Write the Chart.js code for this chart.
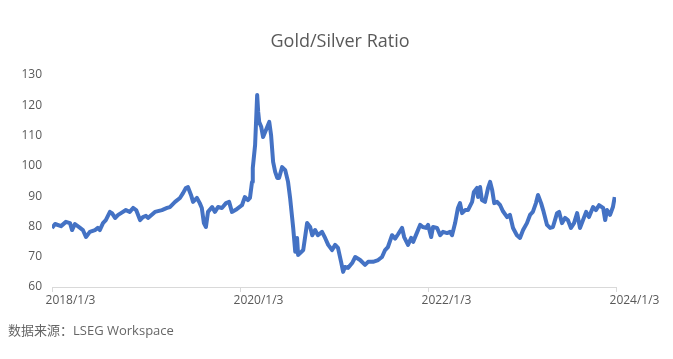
<!DOCTYPE html>
<html>
<head>
<meta charset="utf-8">
<script src="https://cdn.jsdelivr.net/npm/chart.js@4"></script>
<style>
  html, body { margin: 0; padding: 0; background: #fff; }
  #wrap { width: 673px; height: 359px; position: relative; }
</style>
</head>
<body>
<div id="wrap"><canvas id="ratioChart"></canvas></div>
<script>
const chartTitle = 'Gold/Silver Ratio';
const sourceNote = '数据来源：LSEG Workspace';

// x tick positions and their labels
const tickDates = ['2018-01-03', '2020-01-03', '2022-01-03', '2024-01-03'];
const tickLabels = ['2018/1/3', '2020/1/3', '2022/1/3', '2024/1/3'];
const yTicks = [60, 70, 80, 90, 100, 110, 120, 130];

// series
const dates = [
  '2018-01-03','2018-01-15','2018-02-07','2018-02-26','2018-03-14','2018-03-22','2018-04-02','2018-04-22',
  '2018-05-03','2018-05-15','2018-05-30','2018-06-19','2018-06-30','2018-07-08','2018-07-20','2018-07-31',
  '2018-08-16','2018-08-24','2018-09-05','2018-09-17','2018-09-28','2018-10-17','2018-11-01','2018-11-14',
  '2018-11-26','2018-12-11','2018-12-22',
  '2019-01-03','2019-01-11','2019-02-07','2019-03-06','2019-03-26','2019-04-06','2019-04-26','2019-05-15',
  '2019-05-27','2019-06-07','2019-06-15','2019-06-27','2019-07-05','2019-07-20','2019-07-31','2019-08-08',
  '2019-08-16','2019-08-24','2019-09-01','2019-09-17','2019-09-28','2019-10-10','2019-10-25','2019-11-10',
  '2019-11-22','2019-12-03','2019-12-18',
  '2020-01-11','2020-01-22','2020-02-03','2020-02-11','2020-02-19','2020-02-22','2020-03-02','2020-03-10',
  '2020-03-14','2020-03-18','2020-03-26','2020-04-02','2020-04-18','2020-04-26','2020-05-03','2020-05-11',
  '2020-05-19','2020-05-27','2020-06-03','2020-06-15','2020-06-27','2020-07-08','2020-07-16','2020-07-24',
  '2020-07-28','2020-08-05','2020-08-12','2020-08-16','2020-08-24','2020-09-05','2020-09-20','2020-10-02',
  '2020-10-10','2020-10-21','2020-11-01','2020-11-17','2020-11-29','2020-12-11','2020-12-26',
  '2021-01-07','2021-01-18','2021-01-30','2021-02-07','2021-02-14','2021-02-26','2021-03-14','2021-03-26',
  '2021-04-14','2021-05-03','2021-05-15','2021-06-03','2021-06-23','2021-07-08','2021-07-20','2021-07-31',
  '2021-08-16','2021-08-28','2021-09-09','2021-09-24','2021-10-02','2021-10-17','2021-10-29','2021-11-06',
  '2021-11-22','2021-12-03','2021-12-14','2021-12-26',
  '2022-01-03','2022-01-15','2022-01-22','2022-02-07','2022-02-19','2022-03-02','2022-03-18','2022-03-29',
  '2022-04-06','2022-04-18','2022-04-29','2022-05-07','2022-05-15','2022-05-27','2022-06-07','2022-06-23',
  '2022-06-30','2022-07-12','2022-07-16','2022-07-24','2022-07-31','2022-08-12','2022-08-24','2022-09-01',
  '2022-09-09','2022-09-17','2022-09-28','2022-10-10','2022-10-21','2022-11-06','2022-11-17','2022-11-29',
  '2022-12-14','2022-12-26',
  '2023-01-07','2023-01-22','2023-02-03','2023-02-14','2023-02-26','2023-03-06','2023-03-18','2023-03-26',
  '2023-04-10','2023-04-22','2023-05-03','2023-05-19','2023-05-27','2023-06-07','2023-06-19','2023-06-30',
  '2023-07-12','2023-07-24','2023-08-05','2023-08-16','2023-08-28','2023-09-09','2023-09-20','2023-10-06',
  '2023-10-17','2023-10-29','2023-11-14','2023-11-22','2023-11-29','2023-12-11','2023-12-22','2023-12-29'
];

const ratio = [
  79.5, 80.8, 80.1, 81.5, 81.1, 78.8, 80.8, 79.5,
  78.8, 76.5, 78.2, 78.8, 79.5, 78.8, 81.1, 82.1,
  84.8, 84.4, 82.8, 83.8, 84.4, 85.4, 84.8, 86.1,
  85.4, 82.1, 83.1,
  83.5, 82.8, 84.8, 85.4, 86.1, 86.4, 88.1, 89.4,
  91.0, 92.7, 93.0, 90.4, 88.1, 89.4, 87.7, 86.1,
  81.1, 79.8, 84.8, 86.4, 84.8, 86.4, 86.1, 87.7,
  88.1, 84.8, 85.5,
  87.0, 89.7, 88.7, 89.4, 94.7, 99.3, 106.9, 123.4,
  117.8, 114.5, 112.8, 109.5, 112.8, 114.5, 110.2, 101.3,
  98.0, 96.0, 96.0, 99.6, 98.6, 94.7, 89.4, 82.8,
  79.5, 71.6, 76.2, 70.6, 71.2, 72.2, 81.1, 79.8,
  77.1, 78.8, 77.1, 78.2, 76.2, 73.9, 72.2,
  73.9, 72.9, 68.3, 65.0, 66.6, 66.3, 67.9, 69.9,
  68.9, 67.3, 68.3, 68.3, 68.9, 69.9, 72.2, 73.2,
  77.1, 76.0, 77.5, 79.5, 76.5, 73.9, 76.2, 74.9,
  78.2, 80.5, 79.8, 79.5,
  80.5, 76.5, 79.8, 79.5, 77.1, 78.2, 77.8, 78.2,
  77.1, 81.1, 86.1, 87.7, 84.4, 85.4, 85.4, 88.1,
  91.4, 92.7, 89.7, 93.0, 88.7, 88.1, 92.7, 94.7,
  92.0, 87.7, 88.1, 87.0, 85.0, 83.1, 83.8, 79.5,
  77.1, 76.2,
  78.8, 81.1, 83.8, 84.8, 87.7, 90.4, 87.7, 85.4,
  80.5, 79.5, 79.8, 84.4, 84.8, 81.1, 82.8, 82.1,
  79.5, 81.1, 84.4, 79.5, 82.1, 84.8, 83.1, 86.4,
  85.4, 87.0, 86.1, 82.1, 85.4, 83.8, 86.4, 89.7
];

const toTime = d => new Date(d + 'T00:00:00Z').getTime();
const points = dates.map((d, i) => ({ x: toTime(d), y: ratio[i] }));

const textColor = '#595959';
const fontFamily = '"Open Sans", "Noto Sans CJK SC", sans-serif';

// draws title, x axis line + ticks + labels, and the source note
const decorations = {
  id: 'decorations',
  afterDraw(chart) {
    const { ctx, chartArea } = chart;
    const xs = chart.scales.x;
    ctx.save();

    // title
    ctx.fillStyle = textColor;
    ctx.font = '18px ' + fontFamily;
    ctx.textAlign = 'center';
    ctx.textBaseline = 'middle';
    ctx.fillText(chartTitle, 340, 42);

    // x axis line
    ctx.strokeStyle = '#d9d9d9';
    ctx.lineWidth = 1;
    ctx.beginPath();
    ctx.moveTo(chartArea.left, chartArea.bottom + 0.5);
    ctx.lineTo(chartArea.right, chartArea.bottom + 0.5);
    ctx.stroke();

    // ticks and labels
    ctx.font = '12px ' + fontFamily;
    tickDates.forEach((d, i) => {
      const px = Math.round(xs.getPixelForValue(toTime(d))) + 0.5;
      ctx.beginPath();
      ctx.moveTo(px, chartArea.bottom);
      ctx.lineTo(px, chartArea.bottom + 5);
      ctx.stroke();
      ctx.fillText(tickLabels[i], px + 18, chartArea.bottom + 14);
    });

    // source note
    ctx.textAlign = 'left';
    ctx.font = '13px ' + fontFamily;
    ctx.fillStyle = '#666666';
    ctx.fillText(sourceNote, 8, 331);
    ctx.restore();
  }
};

new Chart(document.getElementById('ratioChart'), {
  type: 'line',
  data: {
    datasets: [{
      data: points,
      borderColor: '#4472C4',
      borderWidth: 4,
      borderJoinStyle: 'round',
      pointRadius: 0,
      tension: 0,
      fill: false
    }]
  },
  plugins: [decorations],
  options: {
    responsive: true,
    maintainAspectRatio: false,
    animation: false,
    layout: {
      padding: { top: 75, right: 57, bottom: 72, left: 0 }
    },
    plugins: {
      legend: { display: false },
      title: { display: false },
      tooltip: { enabled: false }
    },
    scales: {
      x: {
        type: 'linear',
        min: toTime(tickDates[0]),
        max: toTime(tickDates[tickDates.length - 1]),
        grid: { display: false, drawTicks: false },
        border: { display: false },
        ticks: { display: false },
        afterFit(s) { s.height = 0; }
      },
      y: {
        min: 60,
        max: 130,
        grid: { display: false, drawTicks: false },
        border: { display: false },
        afterBuildTicks(s) { s.ticks = yTicks.map(v => ({ value: v })); },
        afterFit(s) { s.width = 52; },
        ticks: {
          padding: 10,
          color: textColor,
          font: { family: fontFamily, size: 12 }
        }
      }
    }
  }
});
</script>
</body>
</html>
